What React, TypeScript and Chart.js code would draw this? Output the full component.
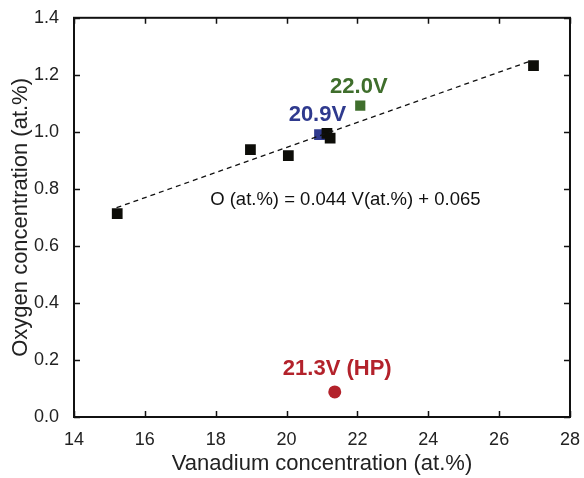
import React, { useEffect, useRef } from "react";
import { Chart, registerables } from "chart.js";

Chart.register(...registerables);

const FONT = '"Liberation Sans", Arial, Helvetica, sans-serif';

// Black samples
const blackX = [15.22, 18.98, 20.05, 21.14, 21.23, 26.97];
const blackY = [0.713, 0.938, 0.917, 0.995, 0.978, 1.232];
// Highlighted samples
const blueX = [20.93];
const blueY = [0.99];
const greenX = [22.08];
const greenY = [1.092];
const redX = [21.36];
const redY = [0.088];
// Fit line endpoints (O = 0.044 V + 0.065)
const fitX = [15.2, 26.9];
const fitY = [0.734, 1.249];

// Axis ranges / ticks
const xTicks = [14, 16, 18, 20, 22, 24, 26, 28];
const yTicks = [0, 0.2, 0.4, 0.6, 0.8, 1.0, 1.2, 1.4];

// Text annotations (anchored in data coordinates)
const annText = ["22.0V", "20.9V", "21.3V (HP)", "O (at.%) = 0.044 V(at.%) + 0.065"];
const annX = [22.04, 20.87, 21.43, 21.66];
const annY = [1.158, 1.06, 0.17, 0.762];
const annColor = ["#3f6e2c", "#2f3a8e", "#b3222b", "#111111"];
const annBold = [true, true, true, false];
const annSize = [22, 22, 22, 18.5];

const toPts = (xs: number[], ys: number[]) => xs.map((x, i) => ({ x, y: ys[i] }));

const framePlugin = {
  id: "frameTicks",
  afterDraw(chart: any) {
    const { ctx, chartArea: a, scales } = chart;
    const xs = scales.x;
    const ys = scales.y;
    ctx.save();
    ctx.strokeStyle = "#111";
    ctx.lineWidth = 1.5;
    const tl = 6;
    ctx.beginPath();
    xTicks.forEach((v) => {
      const px = Math.round(xs.getPixelForValue(v)) + 0.5;
      ctx.moveTo(px, a.bottom);
      ctx.lineTo(px, a.bottom - tl);
      ctx.moveTo(px, a.top);
      ctx.lineTo(px, a.top + tl);
    });
    yTicks.forEach((v) => {
      const py = Math.round(ys.getPixelForValue(v)) + 0.5;
      ctx.moveTo(a.left, py);
      ctx.lineTo(a.left + tl, py);
      ctx.moveTo(a.right, py);
      ctx.lineTo(a.right - tl, py);
    });
    ctx.stroke();
    ctx.lineWidth = 2;
    ctx.strokeRect(a.left, a.top, a.right - a.left, a.bottom - a.top);
    // annotations
    ctx.textAlign = "center";
    ctx.textBaseline = "middle";
    annText.forEach((t, i) => {
      ctx.font = `${annBold[i] ? "bold " : ""}${annSize[i]}px ${FONT}`;
      ctx.fillStyle = annColor[i];
      ctx.fillText(t, xs.getPixelForValue(annX[i]), ys.getPixelForValue(annY[i]));
    });
    ctx.restore();
  },
};

export default function App() {
  const ref = useRef<HTMLCanvasElement>(null);
  useEffect(() => {
    if (!ref.current) return;
    const chart = new Chart(ref.current, {
      type: "scatter",
      data: {
        datasets: [
          {
            type: "line",
            data: toPts(fitX, fitY),
            borderColor: "#111",
            borderWidth: 1.3,
            borderDash: [5, 4],
            pointRadius: 0,
            fill: false,
          } as any,
          {
            data: toPts(blackX, blackY),
            backgroundColor: "#0d0d08",
            borderWidth: 0,
            pointStyle: "rect",
            pointRadius: 7.6,
          },
          {
            data: toPts(blueX, blueY),
            backgroundColor: "#2f3a8e",
            borderWidth: 0,
            pointStyle: "rect",
            pointRadius: 7.6,
          },
          {
            data: toPts(greenX, greenY),
            backgroundColor: "#3f6e2c",
            borderWidth: 0,
            pointStyle: "rect",
            pointRadius: 7.2,
          },
          {
            data: toPts(redX, redY),
            backgroundColor: "#b3222b",
            borderWidth: 0,
            pointStyle: "circle",
            pointRadius: 6.5,
          },
        ],
      },
      options: {
        animation: false,
        responsive: false,
        layout: { padding: { left: 0, top: 15, right: 9, bottom: 0 } },
        plugins: { legend: { display: false }, tooltip: { enabled: false } },
        scales: {
          x: {
            type: "linear",
            min: 14,
            max: 28,
            afterBuildTicks: (s: any) => {
              s.ticks = xTicks.map((v) => ({ value: v }));
            },
            afterFit: (s: any) => {
              s.height = 61;
            },
            grid: { display: false },
            border: { display: false },
            ticks: {
              padding: 4,
              color: "#222",
              font: { family: FONT, size: 18 },
              callback: (v: any) => String(v),
            },
            title: {
              display: true,
              text: "Vanadium concentration (at.%)",
              color: "#222",
              font: { family: FONT, size: 22 },
              padding: { top: 0, bottom: 1 },
            },
          },
          y: {
            type: "linear",
            min: 0,
            max: 1.4,
            afterBuildTicks: (s: any) => {
              s.ticks = yTicks.map((v) => ({ value: v }));
            },
            afterFit: (s: any) => {
              s.width = 74;
            },
            grid: { display: false },
            border: { display: false },
            ticks: {
              padding: 7,
              color: "#222",
              font: { family: FONT, size: 18 },
              callback: (v: any) => Number(v).toFixed(1),
            },
            title: {
              display: true,
              text: "Oxygen concentration (at.%)",
              color: "#222",
              font: { family: FONT, size: 22 },
              padding: { top: 8, bottom: 0 },
            },
          },
        },
      },
      plugins: [framePlugin],
    });
    return () => chart.destroy();
  }, []);
  return (
    <div style={{ position: "fixed", left: 0, top: 0, width: 584, height: 478, background: "#fff" }}>
      <canvas ref={ref} width={584} height={478} style={{ width: 584, height: 478 }} />
    </div>
  );
}
